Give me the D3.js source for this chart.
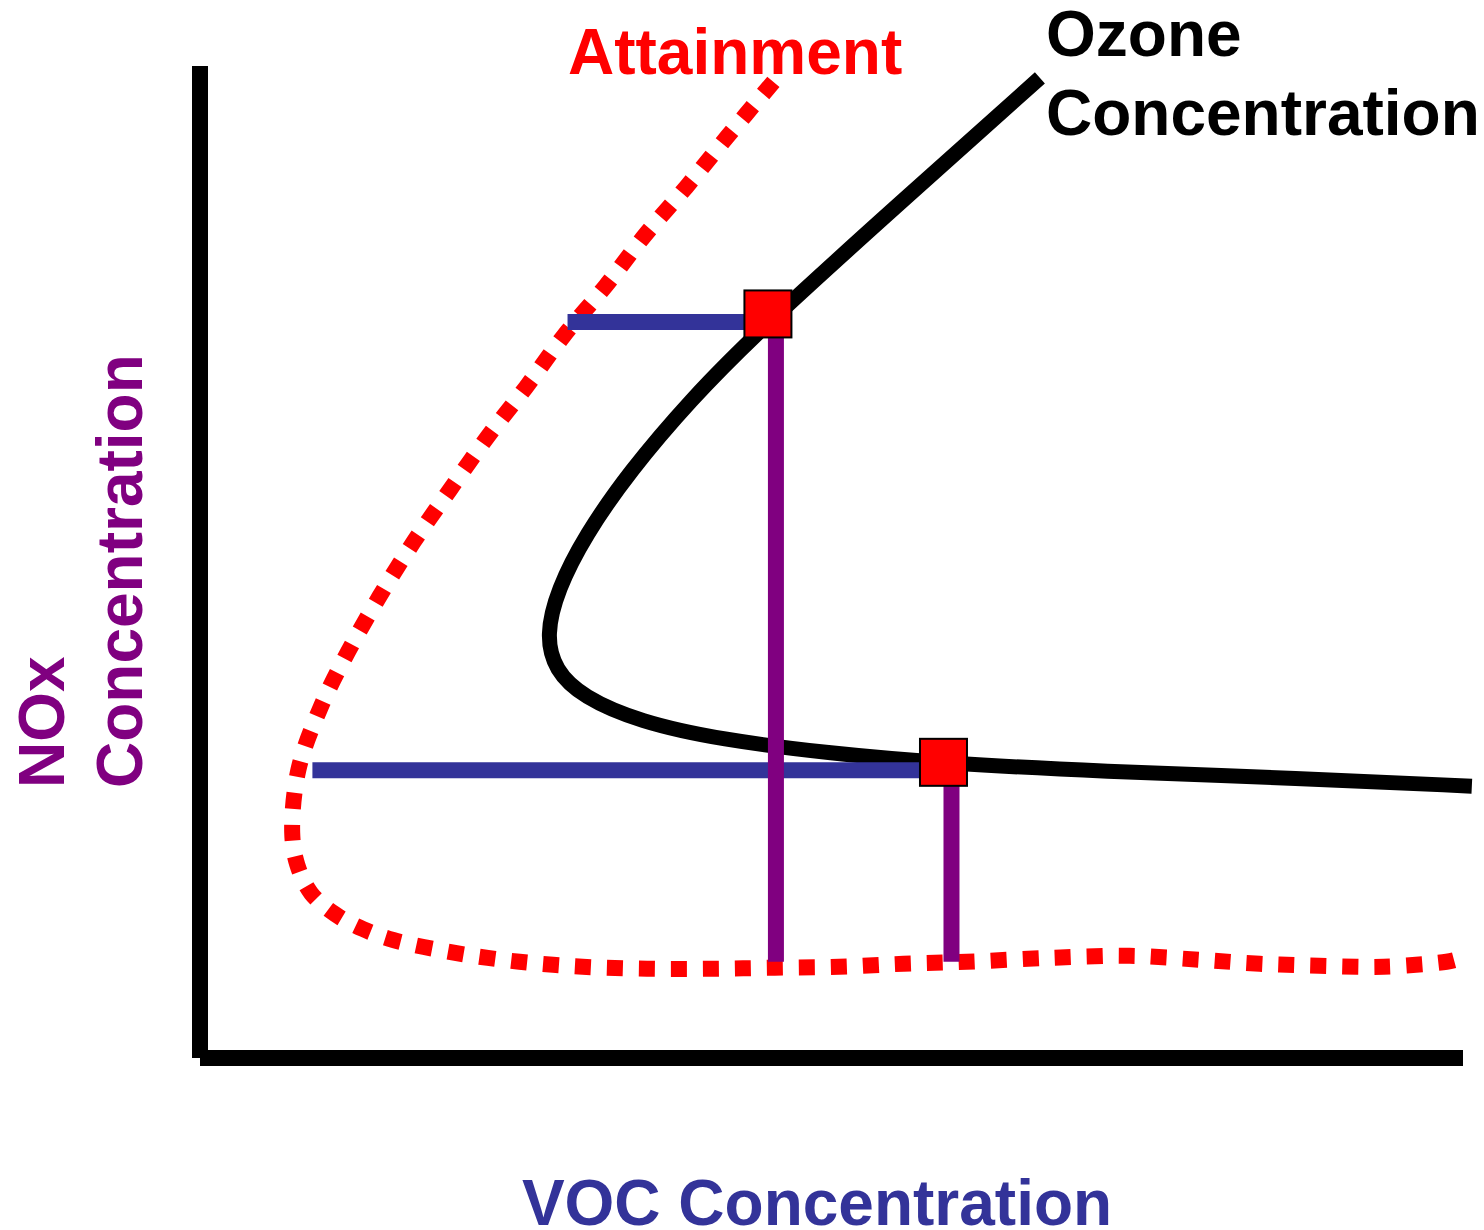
<!DOCTYPE html>
<html>
  <head>
    <meta charset='utf-8'>
    <style>
      body { margin: 0; background: #fff; }
      text { font-family: "Liberation Sans", Arial, sans-serif; font-weight: bold; font-size: 64px; }
    </style>
  </head>

  <body>
    <script src="https://d3js.org/d3.v7.min.js"></script>

    <script type="text/javascript">

      // --------------------------- data --------------------------
      // [VOC, NOx] in arbitrary units, 0..100 on both axes
      var ozoneCurve = [
        [66.5, 98.8], [54.9, 85.6], [44.3, 73.4], [38.8, 66.3], [34.0, 59.1],
        [30.5, 52.7], [28.3, 47.2], [27.4, 42.6], [28.1, 39.1], [30.3, 36.4],
        [34.8, 33.9], [41.2, 32.1], [49.9, 30.7], [58.9, 29.7], [71.3, 28.9],
        [87.1, 28.2], [100.7, 27.4]
      ];

      var attainmentCurve = [
        [45.4, 98.4], [41.7, 92.8], [38.5, 87.8], [35.2, 82.9], [32.1, 77.8],
        [28.8, 72.8], [25.8, 67.6], [22.7, 62.5], [19.8, 57.3], [16.9, 52.0],
        [14.2, 46.5], [11.7, 40.9], [9.5, 35.2], [7.8, 29.1], [7.3, 22.7],
        [7.7, 19.5], [8.8, 16.6], [10.7, 14.5], [12.9, 13.0], [15.3, 11.9],
        [20.2, 10.6], [25.3, 9.7], [30.3, 9.2], [35.4, 9.0], [40.5, 9.0],
        [45.5, 9.1], [50.6, 9.2], [55.7, 9.5], [60.7, 9.7], [67.3, 10.1],
        [73.6, 10.3], [79.2, 9.9], [83.9, 9.5], [88.6, 9.3], [93.7, 9.2],
        [98.7, 9.7], [99.4, 9.9]
      ];

      // control points on the ozone isopleth
      var controlVoc = [45.6, 59.5];
      var controlNox = [74.2, 29.0];
      // where the horizontal (VOC) lines start, and where the NOx lines end
      var vocLineStart = [29.1, 8.9];
      var noxLineEnd = [9.7, 9.7];

      var labels = {
        x: "VOC Concentration",
        y: ["NOx", "Concentration"],
        ozone: ["Ozone", "Concentration"],
        attainment: "Attainment"
      };

      // --------------------------- setup --------------------------
      var width = 1484, height = 1230;

      var x = d3.scaleLinear().domain([0, 100]).range([200, 1463]);
      var y = d3.scaleLinear().domain([0, 100]).range([1058, 66]);

      var svg = d3.select("body").append("svg")
        .attr("width", width)
        .attr("height", height);

      // axes: bare thick lines, no ticks
      var yAxis = d3.axisLeft(y).tickValues([]).tickSizeOuter(0).offset(0);
      var xAxis = d3.axisBottom(x).tickValues([]).tickSizeOuter(0).offset(0);

      svg.append("g")
        .attr("class", "y-axis")
        .attr("transform", "translate(" + x(0) + ",0)")
        .call(yAxis);

      svg.append("g")
        .attr("class", "x-axis")
        .attr("transform", "translate(0," + y(0) + ")")
        .call(xAxis);

      svg.selectAll(".domain")
        .attr("stroke", "#000")
        .attr("stroke-width", 16)
        .attr("stroke-linecap", "butt");

      var smooth = d3.line()
        .x(function(d){ return x(d[0]); })
        .y(function(d){ return y(d[1]); })
        .curve(d3.curveBasis);

      var line = d3.line()
        .x(function(d){ return x(d[0]); })
        .y(function(d){ return y(d[1]); })
        .curve(d3.curveCatmullRom.alpha(0.5));

      // ozone isopleth
      svg.append("path")
        .datum(ozoneCurve)
        .attr("d", smooth)
        .attr("fill", "none")
        .attr("stroke", "#000")
        .attr("stroke-width", 15);

      // attainment isopleth (dotted)
      svg.append("path")
        .datum(attainmentCurve)
        .attr("d", line)
        .attr("fill", "none")
        .attr("stroke", "#ff0000")
        .attr("stroke-width", 16)
        .attr("stroke-dasharray", "16,16");

      // VOC reduction lines
      svg.selectAll(".voc-line")
        .data(controlVoc).enter()
        .append("line")
        .attr("class", "voc-line")
        .attr("x1", function(d, i){ return x(vocLineStart[i]); })
        .attr("x2", function(d){ return x(d); })
        .attr("y1", function(d, i){ return y(controlNox[i]); })
        .attr("y2", function(d, i){ return y(controlNox[i]); })
        .attr("stroke", "#333399")
        .attr("stroke-width", 16);

      // NOx reduction lines
      svg.selectAll(".nox-line")
        .data(controlVoc).enter()
        .append("line")
        .attr("class", "nox-line")
        .attr("x1", function(d){ return x(d); })
        .attr("x2", function(d){ return x(d); })
        .attr("y1", function(d, i){ return y(controlNox[i]); })
        .attr("y2", function(d, i){ return y(noxLineEnd[i]); })
        .attr("stroke", "#800080")
        .attr("stroke-width", 16);

      // red square markers
      var sq = 47;
      svg.append("g")
        .attr("transform", "translate(-8,-8)")
        .selectAll("rect")
        .data(controlVoc).enter()
        .append("rect")
        .attr("x", function(d){ return x(d) - sq / 2; })
        .attr("y", function(d, i){ return y(controlNox[i]) - sq / 2; })
        .attr("width", sq)
        .attr("height", sq)
        .attr("fill", "#ff0000")
        .attr("stroke", "#000")
        .attr("stroke-width", 2);

      // --------------------------- labels --------------------------
      svg.append("text")
        .attr("x", 568)
        .attr("y", 74)
        .attr("fill", "#ff0000")
        .text(labels.attainment);

      svg.selectAll(".ozone-label")
        .data(labels.ozone).enter()
        .append("text")
        .attr("class", "ozone-label")
        .attr("x", 1046)
        .attr("y", function(d, i){ return 56 + i * 79; })
        .attr("fill", "#000")
        .text(function(d){ return d; });

      svg.append("text")
        .attr("x", 817)
        .attr("y", 1225)
        .attr("text-anchor", "middle")
        .attr("fill", "#333399")
        .text(labels.x);

      svg.selectAll(".y-label")
        .data(labels.y).enter()
        .append("text")
        .attr("class", "y-label")
        .attr("transform", function(d, i){ return "translate(" + (64 + i * 78) + ",788) rotate(-90)"; })
        .attr("fill", "#800080")
        .text(function(d){ return d; });

  </script>
  </body>
</html>
